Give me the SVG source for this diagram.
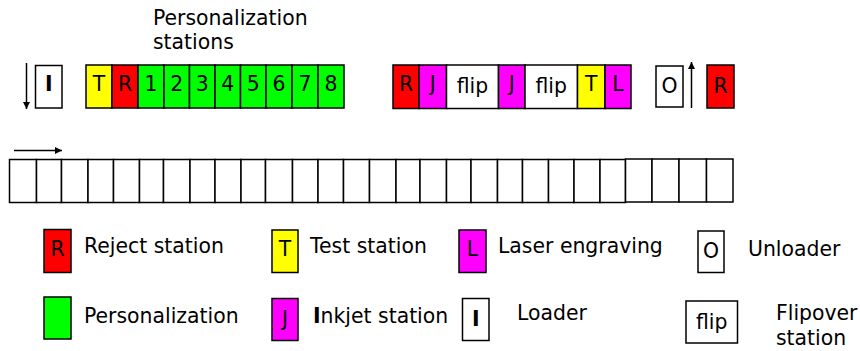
<svg xmlns="http://www.w3.org/2000/svg" width="860" height="351" viewBox="0 0 860 351">
  <defs>
    <marker id="ah" viewBox="0 0 10 10" refX="10" refY="5" markerWidth="7" markerHeight="7" markerUnits="userSpaceOnUse" orient="auto">
      <path d="M0,0 L10,5 L0,10 z" fill="#000"/>
    </marker>
  </defs>
  <style>
    rect { stroke: #000; stroke-width: 1.5; }
    .w { fill: #fff; }
    .r { fill: #ff0000; }
    .y { fill: #ffff00; }
    .g { fill: #00ff00; }
    .m { fill: #ff00ff; }
    text { font-family: "DejaVu Sans", "Liberation Sans", sans-serif; font-size: 20.4px; fill: #000; }
    .c { text-anchor: middle; }
    .b { font-weight: bold; }
    .arrow { stroke: #000; stroke-width: 1.5; fill: none; marker-end: url(#ah); }
  </style>

  <!-- heading -->
  <text x="153" y="25">Personalization</text>
  <text x="153" y="49">stations</text>

  <!-- loader -->
  <g id="loader">
    <rect class="w" x="35.5" y="65.5" width="26.5" height="42.5"/>
    <text class="c b" x="48.75" y="91">I</text>
  </g>

  <!-- first station block: test, reject, personalization 1-8 -->
  <g id="st-test1"><rect class="y" x="86" y="65" width="26" height="43"/><text class="c" x="99" y="91">T</text></g>
  <g id="st-reject1"><rect class="r" x="112" y="65" width="26" height="43"/><text class="c" x="125" y="91">R</text></g>
  <g id="st-p1"><rect class="g" x="138" y="65" width="26" height="43"/><text class="c" x="151" y="91">1</text></g>
  <g id="st-p2"><rect class="g" x="164" y="65" width="25.5" height="43"/><text class="c" x="176.75" y="91">2</text></g>
  <g id="st-p3"><rect class="g" x="189.5" y="65" width="25.5" height="43"/><text class="c" x="202.25" y="91">3</text></g>
  <g id="st-p4"><rect class="g" x="215" y="65" width="25.5" height="43"/><text class="c" x="227.75" y="91">4</text></g>
  <g id="st-p5"><rect class="g" x="240.5" y="65" width="25.5" height="43"/><text class="c" x="253.25" y="91">5</text></g>
  <g id="st-p6"><rect class="g" x="266" y="65" width="26" height="43"/><text class="c" x="279" y="91">6</text></g>
  <g id="st-p7"><rect class="g" x="292" y="65" width="26" height="43"/><text class="c" x="305" y="91">7</text></g>
  <g id="st-p8"><rect class="g" x="318" y="65" width="26" height="43"/><text class="c" x="331" y="91">8</text></g>

  <!-- second station block -->
  <g id="st-reject2"><rect class="r" x="393" y="65" width="26" height="43.5"/><text class="c" x="406" y="91">R</text></g>
  <g id="st-inkjet1"><rect class="m" x="419" y="65" width="27.5" height="43.5"/><text class="c" x="432.75" y="91">J</text></g>
  <g id="st-flip1"><rect class="w" x="446.5" y="65" width="52" height="43.5"/><text class="c" x="472.5" y="93">flip</text></g>
  <g id="st-inkjet2"><rect class="m" x="498.5" y="65" width="26.5" height="43.5"/><text class="c" x="511.75" y="91">J</text></g>
  <g id="st-flip2"><rect class="w" x="525" y="65" width="52.5" height="43.5"/><text class="c" x="551.25" y="93">flip</text></g>
  <g id="st-test2"><rect class="y" x="577.5" y="65" width="27.5" height="43.5"/><text class="c" x="591.25" y="91">T</text></g>
  <g id="st-laser"><rect class="m" x="605" y="65" width="26" height="43.5"/><text class="c" x="618" y="91">L</text></g>

  <!-- unloader and final reject -->
  <g id="unloader"><rect class="w" x="656" y="66" width="27" height="41"/><text class="c" x="669.5" y="93">O</text></g>
  <g id="st-reject3"><rect class="r" x="707" y="65" width="27" height="43"/><text class="c" x="720.5" y="93">R</text></g>

  <!-- conveyor track -->
  <g id="track">
    <rect class="w" x="9.5" y="159.5" width="27" height="43"/>
    <rect class="w" x="36.5" y="159.5" width="25" height="43"/>
    <rect class="w" x="61.5" y="159.5" width="26.5" height="43"/>
    <rect class="w" x="88" y="159.5" width="25.5" height="43"/>
    <rect class="w" x="113.5" y="159.5" width="26" height="43"/>
    <rect class="w" x="139.5" y="159.5" width="24" height="43"/>
    <rect class="w" x="163.5" y="159.5" width="26.5" height="43"/>
    <rect class="w" x="190" y="159.5" width="25" height="43"/>
    <rect class="w" x="215" y="159.5" width="26" height="43"/>
    <rect class="w" x="241" y="159.5" width="24.5" height="43"/>
    <rect class="w" x="265.5" y="159.5" width="27" height="43"/>
    <rect class="w" x="292.5" y="159.5" width="25.5" height="43"/>
    <rect class="w" x="318" y="159.5" width="25.5" height="43"/>
    <rect class="w" x="343.5" y="159.5" width="26" height="43"/>
    <rect class="w" x="369.5" y="159.5" width="26.5" height="43"/>
    <rect class="w" x="396" y="159.5" width="24" height="43"/>
    <rect class="w" x="420" y="159.5" width="26.5" height="43"/>
    <rect class="w" x="446.5" y="159.5" width="24.5" height="43"/>
    <rect class="w" x="471" y="159.5" width="26.5" height="43"/>
    <rect class="w" x="497.5" y="159.5" width="25" height="43"/>
    <rect class="w" x="522.5" y="159.5" width="26" height="43"/>
    <rect class="w" x="548.5" y="159.5" width="25.5" height="43"/>
    <rect class="w" x="574" y="159.5" width="26" height="43"/>
    <rect class="w" x="600" y="159.5" width="25.5" height="43"/>
    <rect class="w" x="625.5" y="159" width="26.5" height="43"/>
    <rect class="w" x="652" y="159" width="27" height="43"/>
    <rect class="w" x="679" y="159" width="27.5" height="43"/>
    <rect class="w" x="706.5" y="159" width="26.5" height="43"/>
  </g>

  <!-- direction arrows -->
  <g id="connectors">
    <line class="arrow" x1="26.5" y1="63" x2="26.5" y2="109"/>
    <line class="arrow" x1="691.5" y1="108" x2="691.5" y2="62"/>
    <line class="arrow" x1="14" y1="150.5" x2="62" y2="150.5"/>
  </g>

  <!-- legend -->
  <g id="legend-reject"><rect class="r" x="44" y="229.5" width="27" height="43"/><text class="c" x="57.5" y="256">R</text><text x="84" y="253">Reject station</text></g>
  <g id="legend-test"><rect class="y" x="272" y="230" width="26" height="42.5"/><text class="c" x="285" y="256">T</text><text x="310" y="253">Test station</text></g>
  <g id="legend-laser"><rect class="m" x="459" y="230" width="27" height="42.5"/><text class="c" x="472.5" y="256">L</text><text x="498" y="253">Laser engraving</text></g>
  <g id="legend-unloader"><rect class="w" x="698" y="231" width="26" height="41.5"/><text class="c" x="711" y="258">O</text><text x="748" y="256">Unloader</text></g>
  <g id="legend-perso"><rect class="g" x="44" y="297" width="27" height="42"/><text x="84" y="323">Personalization</text></g>
  <g id="legend-inkjet"><rect class="m" x="272" y="298.5" width="26" height="42"/><text class="c" x="285" y="326">J</text><text x="313" y="323"><tspan class="b">I</tspan>nkjet station</text></g>
  <g id="legend-loader"><rect class="w" x="462.5" y="298.5" width="26.5" height="42"/><text class="c b" x="475.75" y="326">I</text><text x="517" y="320">Loader</text></g>
  <g id="legend-flip"><rect class="w" x="686" y="301" width="51.5" height="42"/><text class="c" x="711.75" y="329">flip</text><text x="776" y="320">Flipover</text><text x="776" y="345">station</text></g>
</svg>
